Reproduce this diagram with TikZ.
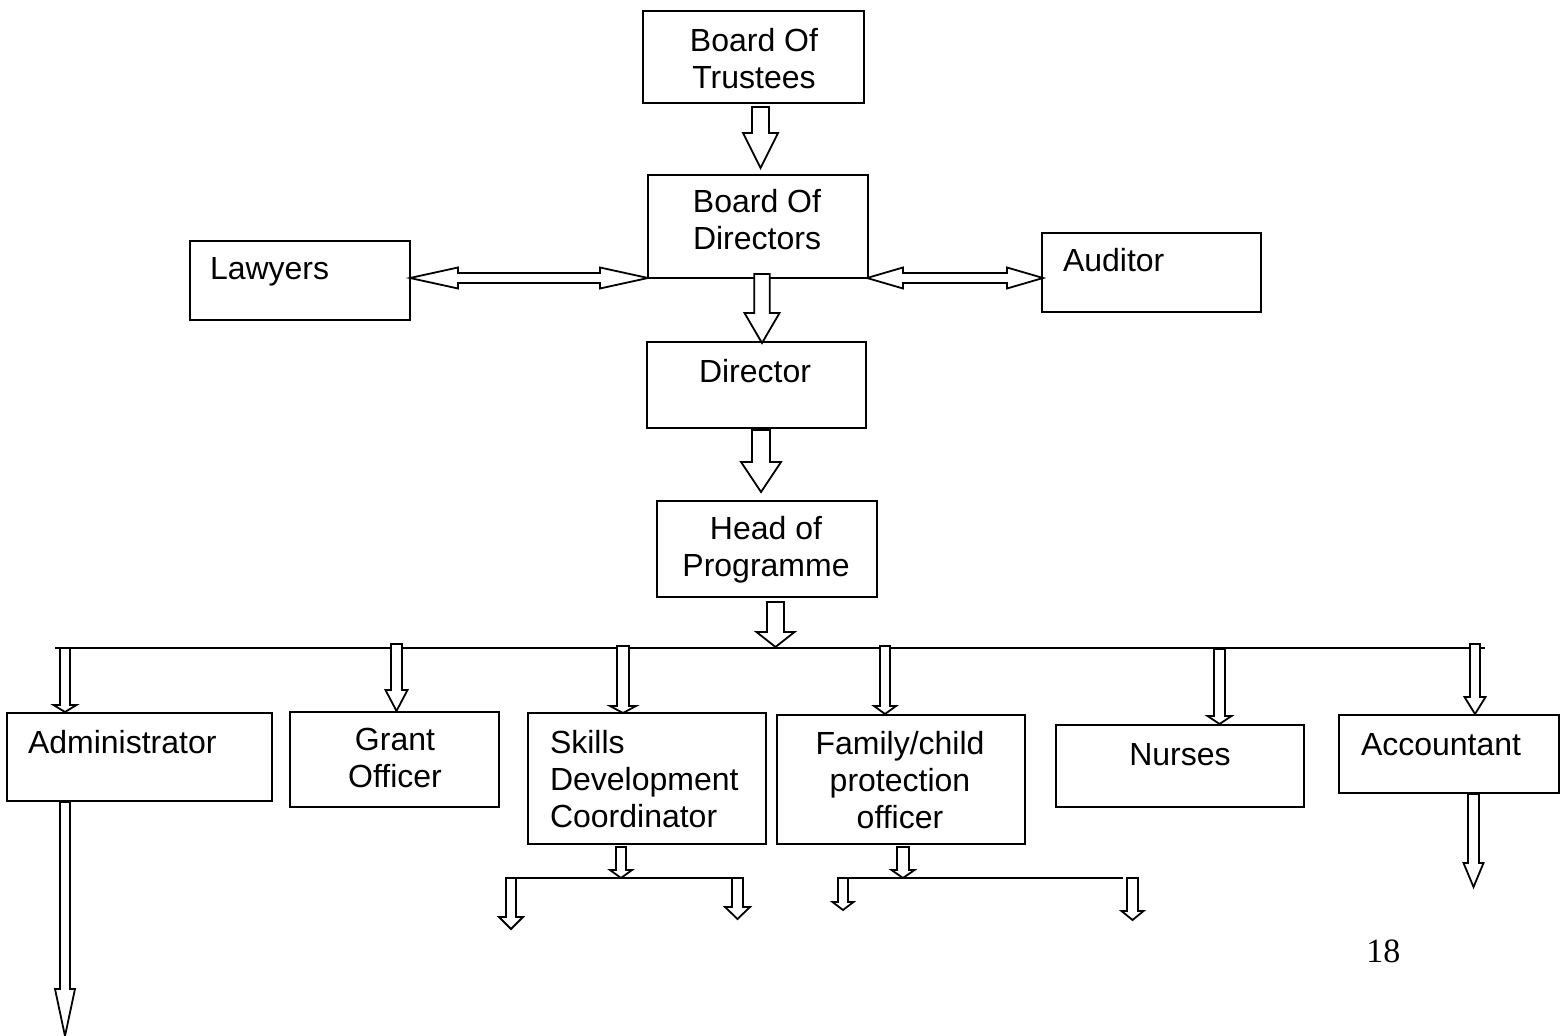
\documentclass[tikz,border=0pt]{standalone}
\usepackage{fontspec}
\setmainfont{Liberation Sans}
\newfontfamily\pnumfont{Liberation Serif}
\tikzset{
  box/.style={draw, line width=1pt, rectangle, inner sep=0pt, outer sep=0pt},
  txt/.style={inner sep=0pt, outer sep=0pt, font=\fontsize{16}{18.5}\selectfont},
  barrow/.style={draw, fill=white, line width=0.9pt, line join=miter},
  bline/.style={draw, line width=1pt}
}
% box: name, x1, y1, x2, y2 (pixel coords)
\newcommand\orgbox[5]{\node[box, minimum width={(#4-#2)*0.5pt}, minimum height={(#5-#3)*0.5pt}] (#1) at ({(#2+#4)/2},{(#3+#5)/2}) {};}
% down block arrow: cx, ytop, yhead, ytip, shaft half, head half
\newcommand\bdarrow[6]{\draw[barrow] ({#1-#5},#2) -- ({#1+#5},#2) -- ({#1+#5},#3) -- ({#1+#6},#3) -- (#1,#4) -- ({#1-#6},#3) -- ({#1-#5},#3) -- cycle;}
% horizontal double block arrow: xl, xr, y, head length, shaft half, head half
\newcommand\bharrow[6]{\draw[barrow] (#1,#3) -- ({#1+#4},{#3-#6}) -- ({#1+#4},{#3-#5}) -- ({#2-#4},{#3-#5}) -- ({#2-#4},{#3-#6}) -- (#2,#3) -- ({#2-#4},{#3+#6}) -- ({#2-#4},{#3+#5}) -- ({#1+#4},{#3+#5}) -- ({#1+#4},{#3+#6}) -- cycle;}
\begin{document}
\begin{tikzpicture}[x=0.5pt, y=-0.5pt]
\useasboundingbox (0,0) rectangle (1561,1036);
% boxes
\orgbox{trust}{643}{11}{864}{103}
\orgbox{dirs}{648}{175}{868}{278}
\orgbox{law}{190}{241}{410}{320}
\orgbox{aud}{1042}{233}{1261}{312}
\orgbox{dir}{647}{342}{866}{428}
\orgbox{head}{657}{501}{877}{597}
\orgbox{admin}{7}{713}{272}{801}
\orgbox{grant}{290}{712}{499}{807}
\orgbox{skills}{528}{713}{766}{844}
\orgbox{family}{777}{715}{1025}{844}
\orgbox{nurses}{1056}{725}{1304}{807}
\orgbox{acct}{1339}{715}{1559}{793}
% texts
\node[txt, align=center] (tTrust) at (754,58.5) {Board Of\\Trustees};
\node[txt, align=center] (tDirs) at (757,220) {Board Of\\Directors};
\node[txt, anchor=base west] (tLaw) at (210,280) {Lawyers};
\node[txt, anchor=base west] (tAud) at (1063,272) {Auditor};
\node[txt, anchor=base] (tDir) at (755,383) {Director};
\node[txt, align=center] (tHead) at (766,550) {Head of\\Programme};
\node[txt, anchor=base west] (tAdmin) at (28,753) {Administrator};
\node[txt, align=center] (tGrant) at (395,758) {Grant\\Officer};
\node[txt, align=left, anchor=west] (tSkills) at (550,779) {Skills\\Development\\Coordinator};
\node[txt, align=center] (tFamily) at (900,780) {Family/child\\protection\\officer};
\node[txt, anchor=base] (tNurses) at (1180,765) {Nurses};
\node[txt, anchor=base west] (tAcct) at (1361,755) {Accountant};
\node[inner sep=0pt, anchor=base west, font=\pnumfont\fontsize{17}{20}\selectfont] (pnum) at (1366,962) {18};
% branch lines
\coordinate (brL) at (55,648);
\coordinate (brR) at (1485,648);
\draw[bline] (brL) -- (brR);
\coordinate (sbL) at (506,878);
\coordinate (sbR) at (743,878);
\draw[bline] (sbL) -- (sbR);
\coordinate (fbL) at (839,878);
\coordinate (fbR) at (1123,878);
\draw[bline] (fbL) -- (fbR);
% double arrows
\bharrow{410}{648}{278}{48}{5}{10.5}
\bharrow{867}{1043}{278}{36}{5}{10.5}
% main chain arrows
\bdarrow{760.5}{107}{133}{168}{8.5}{17.5}
\bdarrow{762}{274}{313}{343}{7.75}{17.5}
\bdarrow{761}{430}{462}{492}{9}{20}
\bdarrow{775.5}{602}{632}{647}{8.5}{19}
% arrows to staff
\bdarrow{65}{648}{705}{712}{5}{11.5}
\bdarrow{396.5}{644}{690}{711}{5.5}{11}
\bdarrow{623}{646}{706}{713}{6}{13}
\bdarrow{885}{646}{706}{714}{5}{11}
\bdarrow{1219.5}{649}{716}{724}{5.5}{12}
\bdarrow{1475}{644}{697}{714}{5}{10.5}
% sub arrows
\bdarrow{621}{847}{870}{878}{5}{11}
\bdarrow{511}{878}{917}{929}{5}{12}
\bdarrow{737.5}{878}{907}{919}{5.5}{12.5}
\bdarrow{903}{847}{870}{878}{6}{11.5}
\bdarrow{843}{878}{902}{910}{5}{10.5}
\bdarrow{1132.5}{878}{911}{920}{5.5}{11}
\bdarrow{1473.5}{794}{863}{887}{5.5}{10}
\bdarrow{65}{802}{989}{1036}{5}{10}
\end{tikzpicture}
\end{document}
